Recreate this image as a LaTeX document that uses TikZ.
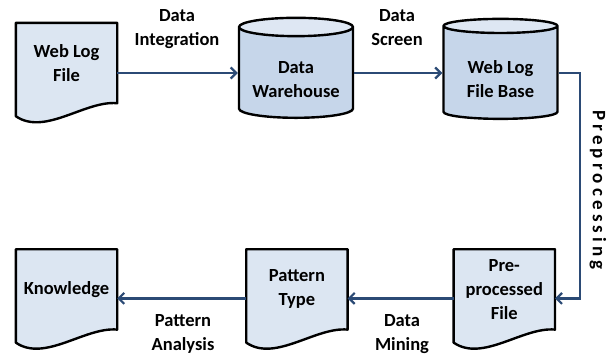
\documentclass[tikz,border=0pt]{standalone}
\usepackage{fontspec}
\setmainfont{Carlito}
\newfontfamily\wmspaced[LetterSpace=22]{Carlito}
\usetikzlibrary{shapes.geometric, arrows.meta, positioning, calc, backgrounds}
\definecolor{wmdocfill}{RGB}{220,230,242}
\definecolor{wmcylbody}{RGB}{198,214,234}
\definecolor{wmcyltop}{RGB}{222,231,243}
\definecolor{wmarrow}{RGB}{43,74,117}
\tikzset{
  docbox/.style   = {rectangle, minimum width=101pt, minimum height=80pt, inner sep=0pt,
                     align=center, font=\bfseries\fontsize{18.5}{24}\selectfont},
  docline/.style  = {draw=black, line width=2.4pt, fill=wmdocfill, line join=round},
  store/.style    = {cylinder, shape border rotate=90, aspect=0.21, draw=black, line width=2.4pt,
                     cylinder uses custom fill, cylinder body fill=wmcylbody,
                     cylinder end fill=wmcyltop, minimum width=114pt, minimum height=100pt,
                     inner sep=0pt, text height=50pt, align=center,
                     font=\bfseries\fontsize{18.5}{24}\selectfont},
  flow/.style     = {-{Straight Barb[length=5.5pt,width=11pt]}, line width=2.2pt, draw=wmarrow},
  flowlab/.style  = {align=center, inner sep=0pt, font=\bfseries\fontsize{18.5}{24}\selectfont},
}
\begin{document}
\begin{tikzpicture}[x=1pt, y=-1pt]
  \useasboundingbox (0,0) rectangle (616,356);
  % top row
  \node[docbox] (weblog) at (66.5,63) {Web Log\\File};
  \node[store] (dwh) at (296,73) {Data\\Warehouse};
  \node[store] (wlbase) at (500.5,73) {Web Log\\File Base};
  % bottom row
  \node[docbox, below=146pt of weblog] (knowl) {Knowledge};
  \node[docbox, right=129pt of knowl] (ptype) {Pattern\\Type};
  \node[docbox, right=106pt of ptype] (prefile) {Pre-\\processed\\File};
  % document outlines
  \begin{scope}[on background layer]
    \foreach \d in {weblog,knowl,ptype,prefile}
      \draw[docline] (\d.north west) -- (\d.north east) -- (\d.south east)
        .. controls ($(\d.south east)+(-32,-3)$) and ($(\d.south west)+(29,33)$)
        .. ($(\d.south west)+(0,13)$) -- cycle;
  \end{scope}
  % connectors
  \draw[flow] (weblog.east |- dwh.west) -- (dwh.west);
  \draw[flow] (dwh.east) -- (wlbase.west);
  \draw[flow] (wlbase.east) -- ++(21,0) |- ([yshift=-9pt]prefile.east);
  \draw[flow] ([yshift=-9pt]prefile.west) -- ([yshift=-9pt]ptype.east);
  \draw[flow] ([yshift=-9pt]ptype.west) -- ([yshift=-9pt]knowl.east);
  % labels
  \node[flowlab] (lint) at (177,29) {Data\\Integration};
  \node[flowlab] (lscr) at (397,27.5) {Data\\Screen};
  \node[flowlab, rotate=-90] (lpre) at (598,190) {\wmspaced\bfseries\fontsize{19}{24}\selectfont Preprocessing};
  \node[flowlab] (lmin) at (402,334) {Data\\Mining};
  \node[flowlab] (lana) at (183,334) {Pattern\\Analysis};
\end{tikzpicture}
\end{document}
